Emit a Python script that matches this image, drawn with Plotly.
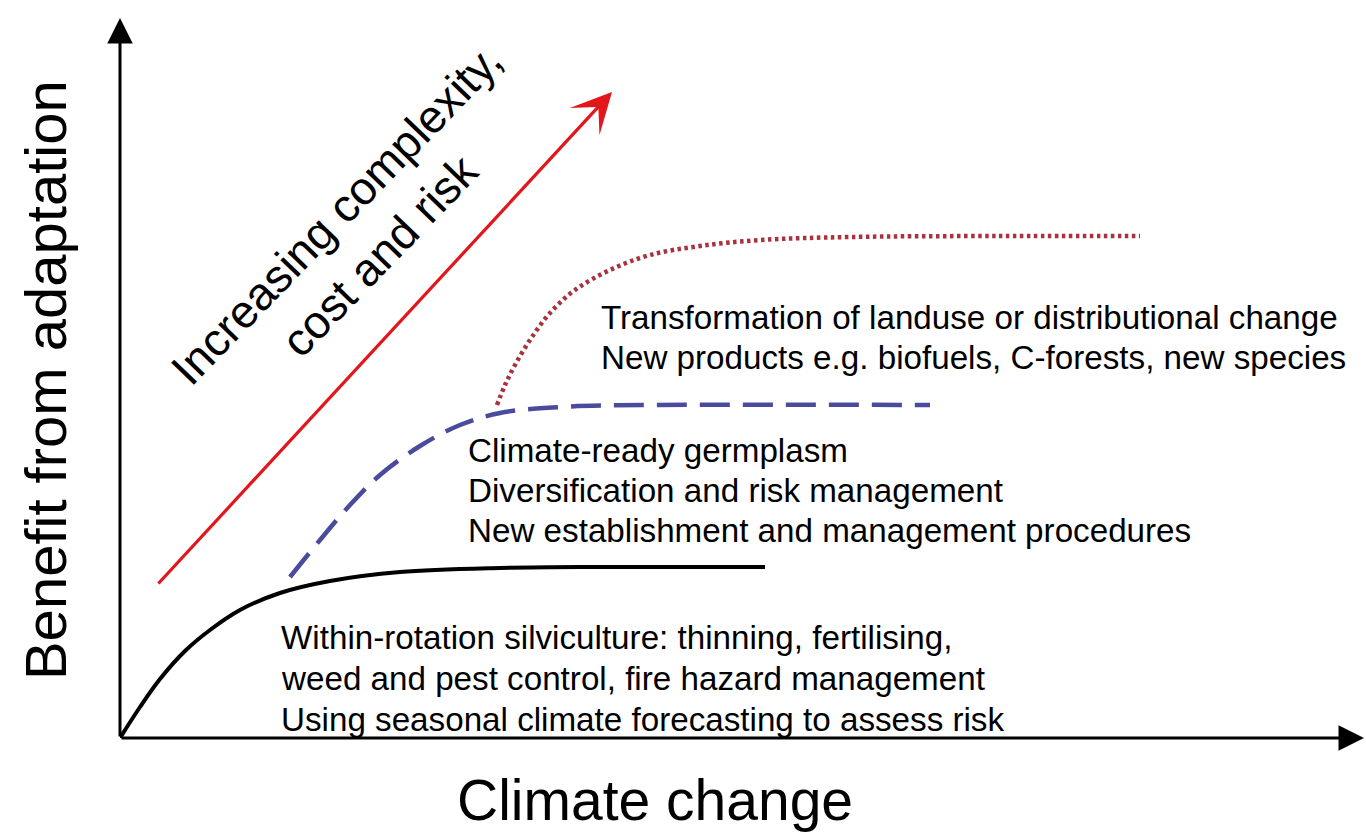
import plotly.graph_objects as go

# ---- data (conceptual units: climate change vs benefit) ----
within_x = [0.0, 0.2, 0.4, 0.65, 0.9, 1.2, 1.6, 2.1, 2.8, 3.8, 4.8, 6.45]
within_y = [0.0, 0.31, 0.59, 0.87, 1.08, 1.28, 1.45, 1.57, 1.66, 1.70, 1.71, 1.71]

incremental_x = [1.7, 2.0, 2.3, 2.6, 3.0, 3.4, 3.8, 4.4, 5.3, 8.1]
incremental_y = [1.61, 1.98, 2.33, 2.63, 2.92, 3.13, 3.25, 3.31, 3.33, 3.33]

transform_x = [3.77, 3.85, 3.95, 4.1, 4.3, 4.55, 4.9, 5.3, 5.8, 6.4, 7.3, 8.8, 10.2]
transform_y = [3.33, 3.53, 3.73, 3.98, 4.25, 4.48, 4.68, 4.83, 4.92, 4.98, 5.01, 5.02, 5.02]

complexity_tail = (0.37, 1.53)
complexity_head = (4.92, 6.46)

x_axis_max = 12.44
y_axis_max = 7.2

within_lines = ["Within-rotation silviculture: thinning, fertilising,",
                "weed and pest control, fire hazard management",
                "Using seasonal climate forecasting to assess risk"]
incremental_lines = ["Climate-ready germplasm",
                     "Diversification and risk management",
                     "New establishment and management procedures"]
transform_lines = ["Transformation of landuse or distributional change",
                   "New products e.g. biofuels, C-forests, new species"]

x_title = "Climate change"
y_title = "Benefit from adaptation"
arrow_label = "Increasing complexity,<br>cost and risk"

FONT = "Liberation Sans, Arial, Helvetica, sans-serif"

fig = go.Figure()
fig.add_trace(go.Scatter(x=within_x, y=within_y, mode="lines", line_shape="spline",
                         line=dict(color="black", width=4), hoverinfo="skip"))
fig.add_trace(go.Scatter(x=incremental_x, y=incremental_y, mode="lines", line_shape="spline",
                         line=dict(color="#4b4b9e", width=4.5, dash="30px,13px"), hoverinfo="skip"))
fig.add_trace(go.Scatter(x=transform_x, y=transform_y, mode="lines", line_shape="spline",
                         line=dict(color="#a8323e", width=4.5, dash="3.5px,3.5px"), hoverinfo="skip"))

ann = []
# axes arrows
ann.append(dict(x=0, y=y_axis_max, ax=0, ay=0, xref="x", yref="y", axref="x", ayref="y",
                text="", showarrow=True, arrowhead=2, arrowwidth=3, arrowsize=1.7,
                arrowcolor="black", standoff=0, startstandoff=0))
ann.append(dict(x=x_axis_max, y=0, ax=0, ay=0, xref="x", yref="y", axref="x", ayref="y",
                text="", showarrow=True, arrowhead=2, arrowwidth=3, arrowsize=1.7,
                arrowcolor="black", standoff=0, startstandoff=0))
# complexity arrow
ann.append(dict(x=complexity_head[0], y=complexity_head[1], ax=complexity_tail[0], ay=complexity_tail[1],
                xref="x", yref="y", axref="x", ayref="y", text="", showarrow=True,
                arrowhead=3, arrowwidth=3.2, arrowsize=2.1, arrowcolor="#e3161c", standoff=0))
ann.append(dict(x=2.38, y=5.03, xref="x", yref="y", text=arrow_label,
                showarrow=False, textangle=-46, font=dict(family=FONT, size=46, color="black"),
                align="center", xanchor="center", yanchor="middle"))

def add_block(lines, x0, y0, step):
    for i, t in enumerate(lines):
        ann.append(dict(x=x0, y=y0 - i * step, xref="x", yref="y", text=t, showarrow=False,
                        xanchor="left", yanchor="middle", align="left",
                        font=dict(family=FONT, size=33.2, color="black")))

add_block(within_lines, 1.59, 1.01, 0.41)
add_block(incremental_lines, 3.46, 2.88, 0.40)
add_block(transform_lines, 4.79, 4.21, 0.40)

# axis titles (paper coordinates = plot area fractions)
ann.append(dict(x=0.4294, y=-0.0835, xref="paper", yref="paper", text=x_title, showarrow=False,
                xanchor="center", yanchor="middle", font=dict(family=FONT, size=57, color="black")))
ann.append(dict(x=-0.0602, y=0.485, xref="paper", yref="paper", text=y_title, showarrow=False,
                textangle=-90, xanchor="center", yanchor="middle",
                font=dict(family=FONT, size=58, color="black")))

fig.update_layout(
    width=1366, height=837,
    margin=dict(l=120, r=0, t=0, b=99),
    paper_bgcolor="white", plot_bgcolor="white",
    showlegend=False,
    annotations=ann,
    xaxis=dict(range=[0, 12.46], visible=False, fixedrange=True),
    yaxis=dict(range=[0, 7.38], visible=False, fixedrange=True),
)

fig.write_html("out.html", config={"displayModeBar": False},
               post_script="document.body.style.margin='0';document.body.style.overflow='hidden';")
